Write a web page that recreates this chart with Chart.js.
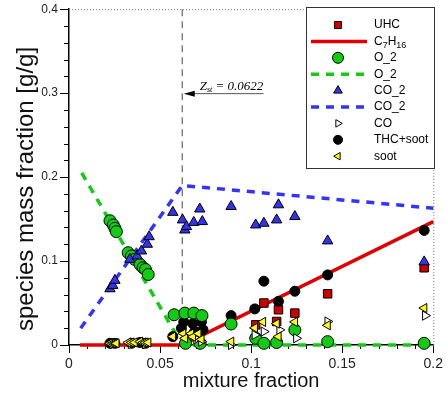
<!DOCTYPE html>
<html>
<head>
<meta charset="utf-8">
<script src="https://cdn.jsdelivr.net/npm/chart.js@4.4.0/dist/chart.umd.min.js"></script>
<style>
html, body { margin: 0; padding: 0; background: #fff; }
</style>
</head>
<body>
<canvas id="grafico" width="446" height="395"></canvas>
<script>
// valores
const zst = 0.0622;
const xTicks = [0, 0.05, 0.1, 0.15, 0.2];
const yTicks = [0, 0.1, 0.2, 0.3, 0.4];

// UHC (cuadrados rojos)
const uhcX = [0.1025, 0.107, 0.114, 0.115, 0.124, 0.142, 0.195];
const uhcY = [0.024, 0.050, 0.028, 0.042, 0.038, 0.061, 0.092];

// C7H16 (linea roja)
const c7h16X = [0.006, 0.0622, 0.2];
const c7h16Y = [0, 0, 0.147];

// O_2 medido
const o2X = [0.0225, 0.0243, 0.0252, 0.026, 0.0325, 0.0343, 0.036, 0.039, 0.0407, 0.042, 0.0435,
             0.0577, 0.0636, 0.0685, 0.073, 0.064, 0.072, 0.089, 0.1025, 0.107, 0.114, 0.124, 0.142, 0.195];
const o2Y = [0.148, 0.143, 0.139, 0.135, 0.110, 0.106, 0.102, 0.096, 0.092, 0.090, 0.084,
             0.036, 0.038, 0.038, 0.035, 0.002, 0.002, 0.025, 0.008, 0.002, 0.003, 0.018, 0.004, 0.002];

// O_2 linea
const o2LineaX = [0.007, 0.0622, 0.2];
const o2LineaY = [0.205, 0, 0];

// CO_2 medido
const co2X = [0.0225, 0.024, 0.0252, 0.0334, 0.0374, 0.0398, 0.043, 0.044, 0.057, 0.0623, 0.0636, 0.0645,
              0.0685, 0.0718, 0.0732, 0.089, 0.1025, 0.107, 0.114, 0.115, 0.124, 0.142, 0.195];
const co2Y = [0.067, 0.071, 0.077, 0.102, 0.106, 0.112, 0.120, 0.129, 0.158, 0.149, 0.137, 0.141,
              0.146, 0.162, 0.147, 0.165, 0.143, 0.145, 0.149, 0.167, 0.153, 0.124, 0.099];

// CO_2 linea
const co2LineaX = [0.0064, 0.0622, 0.2];
const co2LineaY = [0.02, 0.19, 0.163];

// CO
const coX = [0.024, 0.034, 0.042, 0.070, 0.0727, 0.089, 0.102, 0.107, 0.1156, 0.1248, 0.142, 0.1956];
const coY = [0.001, 0.001, 0.001, 0.007, 0.004, 0.000, 0.012, 0.016, 0.018, 0.008, 0.028, 0.035];

// THC+soot
const thcX = [0.0225, 0.0252, 0.0343, 0.039, 0.042, 0.057, 0.0617, 0.063, 0.068, 0.069, 0.0727, 0.0736,
              0.089, 0.102, 0.107, 0.115, 0.124, 0.142, 0.195];
const thcY = [0.002, 0.002, 0.002, 0.003, 0.002, 0.010, 0.020, 0.0275, 0.0255, 0.016, 0.0275, 0.018,
              0.035, 0.043, 0.076, 0.052, 0.064, 0.0835, 0.1365];

// soot
const sootX = [0.0225, 0.024, 0.0252, 0.026, 0.0325, 0.0343, 0.036, 0.039, 0.0407, 0.042, 0.0435,
               0.057, 0.0627, 0.0636, 0.067, 0.068, 0.071, 0.0727, 0.089, 0.102, 0.1065, 0.114, 0.115,
               0.124, 0.142, 0.195];
const sootY = [0.002, 0.002, 0.002, 0.002, 0.003, 0.003, 0.003, 0.004, 0.003, 0.003, 0.003,
               0.010, 0.0137, 0.008, 0.0137, 0.0098, 0.0137, 0.0067, 0.004, 0.0204, 0.0275, 0.0255, 0.010,
               0.0275, 0.0235, 0.044];

const fuente = "'Liberation Sans', Arial, Helvetica, sans-serif";

function puntos(xs, ys) {
    return xs.map((x, i) => ({ x: x, y: ys[i] }));
}

function serieMarcas(label, xs, ys, estilo, relleno, radio, orden, rotacion) {
    return {
        label: label,
        data: puntos(xs, ys),
        showLine: false,
        pointStyle: estilo,
        pointRadius: radio,
        pointRotation: rotacion || 0,
        pointBackgroundColor: relleno,
        pointBorderColor: '#000',
        pointBorderWidth: 1,
        order: orden,
        clip: false
    };
}

function serieLinea(label, xs, ys, color, dash, orden) {
    return {
        label: label,
        data: puntos(xs, ys),
        showLine: true,
        borderColor: color,
        borderWidth: 3.5,
        borderDash: dash,
        pointRadius: 0,
        tension: 0,
        order: orden,
        clip: false
    };
}

// plugin para ticks menores, bordes punteados, Zst, leyenda y titulo del eje y
const extras = {
    id: 'extras',
    beforeDatasetsDraw(chart) {
        const { ctx, chartArea: a, scales: { x, y } } = chart;
        ctx.save();
        ctx.strokeStyle = '#000';
        ctx.lineWidth = 1;
        ctx.beginPath();
        for (let i = 1; i < 20; i++) {
            if (i % 5 === 0) continue;
            const px = Math.round(x.getPixelForValue(i * 0.01)) + 0.5;
            ctx.moveTo(px, a.bottom);
            ctx.lineTo(px, a.bottom + 4);
            const py = Math.round(y.getPixelForValue(i * 0.02)) + 0.5;
            ctx.moveTo(a.left - 5, py);
            ctx.lineTo(a.left, py);
        }
        ctx.stroke();

        // bordes superior y derecho punteados
        ctx.setLineDash([1, 2]);
        ctx.strokeStyle = '#777';
        ctx.beginPath();
        ctx.moveTo(a.left, a.top + 0.5);
        ctx.lineTo(a.right + 0.5, a.top + 0.5);
        ctx.lineTo(a.right + 0.5, a.bottom);
        ctx.stroke();

        // linea vertical de Zst
        const zx = x.getPixelForValue(zst);
        ctx.setLineDash([7, 5]);
        ctx.strokeStyle = '#808080';
        ctx.lineWidth = 1.5;
        ctx.beginPath();
        ctx.moveTo(zx, a.top);
        ctx.lineTo(zx, a.bottom);
        ctx.stroke();
        ctx.restore();
    },
    afterDraw(chart) {
        const { ctx, chartArea: a, scales: { x, y } } = chart;
        ctx.save();

        // flecha y texto de Zst
        const yf = y.getPixelForValue(0.3);
        const xPunta = x.getPixelForValue(0.063);
        const xCola = x.getPixelForValue(0.1068);
        ctx.strokeStyle = '#555';
        ctx.lineWidth = 1;
        ctx.beginPath();
        ctx.moveTo(xCola, yf + 0.5);
        ctx.lineTo(xPunta + 8, yf + 0.5);
        ctx.stroke();
        ctx.fillStyle = '#000';
        ctx.beginPath();
        ctx.moveTo(xPunta, yf + 0.5);
        ctx.lineTo(xPunta + 11, yf - 2.5);
        ctx.lineTo(xPunta + 11, yf + 3.5);
        ctx.closePath();
        ctx.fill();

        let tx = x.getPixelForValue(0.0718);
        const ty = yf - 3;
        ctx.textBaseline = 'alphabetic';
        ctx.textAlign = 'left';
        ctx.font = "italic 13px 'Liberation Serif', 'Times New Roman', serif";
        ctx.fillText('Z', tx, ty);
        tx += ctx.measureText('Z').width;
        ctx.font = "italic 8px 'Liberation Serif', 'Times New Roman', serif";
        ctx.fillText('st', tx, ty + 2);
        tx += ctx.measureText('st').width;
        ctx.font = "italic 13px 'Liberation Serif', 'Times New Roman', serif";
        ctx.fillText(' = 0.0622', tx, ty);

        // leyenda
        const caja = { left: 306, top: 7, right: 434, bottom: 168 };
        ctx.fillStyle = '#fff';
        ctx.fillRect(caja.left, caja.top, caja.right - caja.left, caja.bottom - caja.top);
        ctx.strokeStyle = '#333';
        ctx.lineWidth = 1;
        ctx.strokeRect(caja.left + 0.5, caja.top + 0.5, caja.right - caja.left, caja.bottom - caja.top);

        chart.data.datasets.forEach((ds, i) => {
            const fy = 25 + i * 16.4;
            if (ds.showLine) {
                ctx.strokeStyle = ds.borderColor;
                ctx.lineWidth = ds.borderWidth;
                ctx.setLineDash(ds.borderDash || []);
                ctx.beginPath();
                ctx.moveTo(311, fy);
                ctx.lineTo(367, fy);
                ctx.stroke();
                ctx.setLineDash([]);
            } else {
                ctx.fillStyle = ds.pointBackgroundColor;
                ctx.strokeStyle = '#000';
                ctx.lineWidth = 1;
                Chart.helpers.drawPoint(ctx, {
                    pointStyle: ds.pointStyle,
                    rotation: ds.pointRotation,
                    radius: ds.pointStyle === 'circle' ? ds.pointRadius - 0.5 : ds.pointRadius - 1,
                    borderWidth: 1
                }, 338, fy);
            }
            // texto con subindices (C7H16)
            ctx.fillStyle = '#000';
            ctx.textBaseline = 'middle';
            let lx = 374;
            const chars = ds.label.split('');
            chars.forEach((c, k) => {
                const sub = /[0-9]/.test(c) && k > 0 && /[A-Za-z0-9]/.test(chars[k - 1]);
                ctx.font = (sub ? '9px ' : '12px ') + fuente;
                ctx.fillText(c, lx, fy + (sub ? 4 : 0));
                lx += ctx.measureText(c).width;
            });
        });

        // titulo del eje y
        ctx.save();
        ctx.translate(26, 189);
        ctx.rotate(-Math.PI / 2);
        ctx.font = '24px ' + fuente;
        ctx.fillStyle = '#111';
        ctx.textAlign = 'center';
        ctx.textBaseline = 'middle';
        ctx.fillText('species mass fraction [g/g]', 0, 0);
        ctx.restore();

        ctx.restore();
    }
};

const ctx = document.getElementById('grafico').getContext('2d');

new Chart(ctx, {
    type: 'scatter',
    data: {
        datasets: [
            serieMarcas('UHC', uhcX, uhcY, 'rect', '#cc0000', 6, 7),
            serieLinea('C7H16', c7h16X, c7h16Y, '#e00000', [], 10),
            serieMarcas('O_2', o2X, o2Y, 'circle', '#11cc11', 6, 5),
            serieLinea('O_2', o2LineaX, o2LineaY, '#11cc11', [8, 7], 11),
            serieMarcas('CO_2', co2X, co2Y, 'triangle', '#3333ee', 6, 4),
            serieLinea('CO_2', co2LineaX, co2LineaY, '#3333ff', [8, 7], 12),
            serieMarcas('CO', coX, coY, 'triangle', '#ffffff', 5.3, 3, 90),
            serieMarcas('THC+soot', thcX, thcY, 'circle', '#000000', 5, 6),
            serieMarcas('soot', sootX, sootY, 'triangle', '#ffff00', 5.3, 2, -90)
        ]
    },
    options: {
        responsive: false,
        animation: false,
        events: [],
        layout: {
            padding: { top: 6, right: 12, left: 0, bottom: 0 }
        },
        scales: {
            x: {
                type: 'linear',
                min: 0,
                max: 0.2,
                afterFit: function(scale) { scale.height = 50; },
                afterBuildTicks: function(scale) { scale.ticks = xTicks.map(v => ({ value: v })); },
                ticks: {
                    color: '#222',
                    padding: 3,
                    font: { size: 14, family: fuente },
                    callback: function(v) { return String(+v.toFixed(3)); }
                },
                grid: {
                    drawOnChartArea: false,
                    tickLength: 8,
                    tickColor: '#000'
                },
                border: { color: '#000', width: 1.5 },
                title: {
                    display: true,
                    text: 'mixture fraction',
                    color: '#111',
                    font: { size: 20, family: fuente },
                    padding: { top: 0, bottom: 2 }
                }
            },
            y: {
                type: 'linear',
                min: 0,
                max: 0.4,
                afterFit: function(scale) { scale.width = 69; },
                afterBuildTicks: function(scale) { scale.ticks = yTicks.map(v => ({ value: v })); },
                ticks: {
                    color: '#222',
                    padding: 2,
                    font: { size: 12, family: fuente },
                    callback: function(v) { return String(+v.toFixed(3)); }
                },
                grid: {
                    drawOnChartArea: false,
                    tickLength: 9,
                    tickColor: '#000'
                },
                border: { color: '#000', width: 1.5 }
            }
        },
        plugins: {
            legend: { display: false },
            tooltip: { enabled: false },
            title: { display: false }
        }
    },
    plugins: [extras]
});
</script>
</body>
</html>
